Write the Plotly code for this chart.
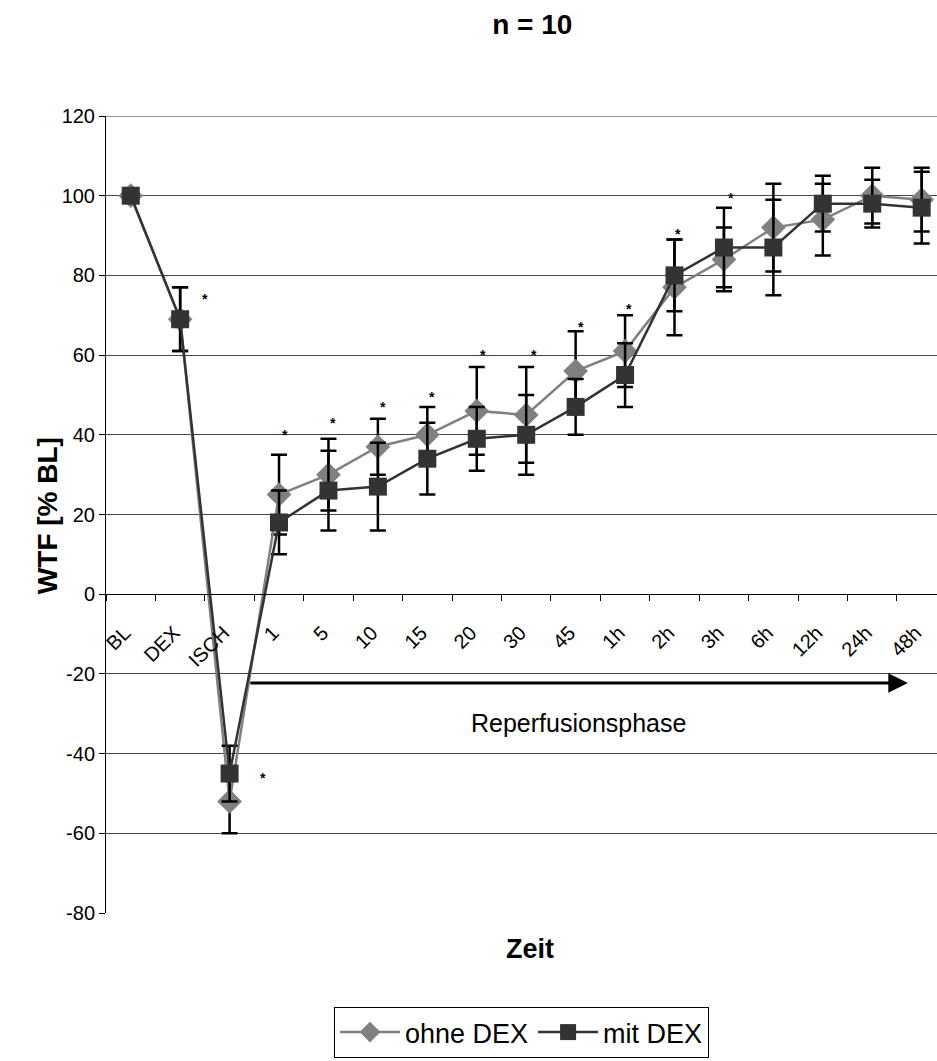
import plotly.graph_objects as go

categories = ["BL", "DEX", "ISCH", "1", "5", "10", "15", "20", "30", "45",
              "1h", "2h", "3h", "6h", "12h", "24h", "48h"]
ohne_dex = [100, 69, -52, 25, 30, 37, 40, 46, 45, 56, 61, 77, 84, 92, 94, 100, 99]
ohne_err = [0, 8, 8, 10, 9, 7, 7, 11, 12, 10, 9, 12, 8, 11, 9, 7, 8]
mit_dex = [100, 69, -45, 18, 26, 27, 34, 39, 40, 47, 55, 80, 87, 87, 98, 98, 97]
mit_err = [0, 8, 7, 8, 10, 11, 9, 8, 10, 7, 8, 9, 10, 12, 7, 6, 9]
y_ticks = [-80, -60, -40, -20, 0, 20, 40, 60, 80, 100, 120]
y_ticktext = ["-80", "-60", "-40", "-20", "0", "20", "40", "60", "80", "100", "120"]
# significance marks: (category position, value)
star_pos = [1.5, 2.68, 3.12, 4.1, 5.1, 6.1, 7.13, 8.16, 9.1, 10.08, 11.07, 12.14]
star_val = [74, -46, 40, 43, 47, 49.5, 60, 60, 67, 71.5, 90.5, 99.5]

FONT = "Liberation Sans, Arial, sans-serif"

fig = go.Figure()
fig.add_trace(go.Scatter(
    x=categories, y=ohne_dex, name="ohne DEX", mode="lines+markers",
    line=dict(color="#808080", width=2.5),
    marker=dict(symbol="diamond", size=19, color="#808080"),
    error_y=dict(type="data", array=ohne_err, visible=True, color="black",
                 thickness=2.5, width=8),
))
fig.add_trace(go.Scatter(
    x=categories, y=mit_dex, name="mit DEX", mode="lines+markers",
    line=dict(color="#333333", width=2.5),
    marker=dict(symbol="square", size=18, color="#333333"),
    error_y=dict(type="data", array=mit_err, visible=True, color="black",
                 thickness=2.5, width=8),
))

for xp, yv in zip(star_pos, star_val):
    fig.add_annotation(x=xp, y=yv, xref="x", yref="y", text="<b>*</b>", showarrow=False,
                       font=dict(family=FONT, size=14, color="black"))

# reperfusion arrow
fig.add_annotation(x=15.72, y=-22.3, ax=2.39, ay=-22.3, xref="x", yref="y",
                   axref="x", ayref="y", text="", showarrow=True,
                   arrowhead=2, arrowsize=1.3, arrowwidth=3, arrowcolor="black")
fig.add_annotation(x=9.05, y=-32.4, xref="x", yref="y", text="Reperfusionsphase",
                   showarrow=False, font=dict(family=FONT, size=25, color="black"))

# axis titles
fig.add_annotation(x=0.51, y=-0.066, xref="paper", yref="paper", text="<b>Zeit</b>",
                   showarrow=False, font=dict(family=FONT, size=27, color="black"))
fig.add_annotation(x=-0.092, y=0.498, xref="paper", yref="paper", text="<b>WTF [% BL]</b>",
                   textangle=-90, showarrow=False,
                   font=dict(family=FONT, size=28, color="black"))

# top border
fig.add_shape(type="line", xref="paper", yref="y", x0=0, x1=1, y0=120, y1=120,
              line=dict(color="#999999", width=2))

fig.update_layout(
    width=937, height=1061,
    margin=dict(l=106, r=0, t=116, b=148),
    paper_bgcolor="white", plot_bgcolor="white",
    font=dict(family=FONT, color="black"),
    title=dict(text="<b>n = 10</b>", x=0.513, xref="paper", xanchor="center",
               y=0.977, yanchor="middle", font=dict(family=FONT, size=28, color="black")),
    showlegend=True,
    legend=dict(orientation="h", x=0.5, xanchor="center", y=-0.118, yanchor="top",
                bordercolor="black", borderwidth=1, bgcolor="white",
                font=dict(family=FONT, size=27, color="black"),
                itemwidth=60, tracegroupgap=0),
    xaxis=dict(type="category", categoryorder="array", categoryarray=categories,
               range=[-0.5, 16.31], anchor="free", position=0.4,
               showline=True, linecolor="black", linewidth=1,
               ticks="outside", ticklen=6, tickcolor="black", tickson="boundaries",
               tickangle=-45, ticklabelstandoff=18, ticklabelshift=-6,
               tickfont=dict(family=FONT, size=20, color="black"),
               showgrid=False, zeroline=False),
    yaxis=dict(range=[-80, 120], tickvals=y_ticks, ticktext=y_ticktext,
               showline=True, linecolor="black",
               linewidth=1, ticks="outside", ticklen=6, tickcolor="black",
               tickfont=dict(family=FONT, size=20, color="black"),
               showgrid=True, gridcolor="#444444", gridwidth=1, zeroline=False),
)

fig.write_html("out.html")
